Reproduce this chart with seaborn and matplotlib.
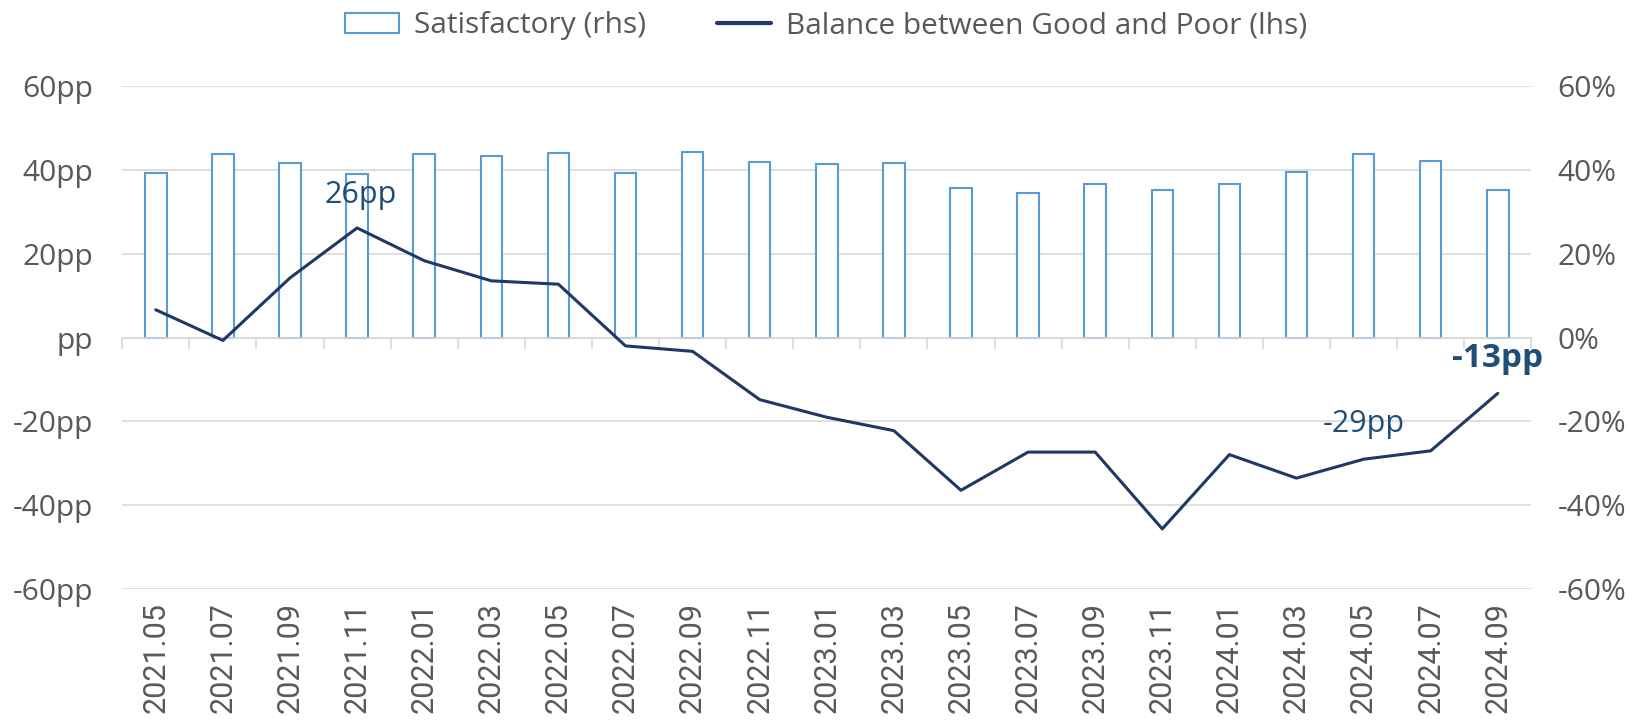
import numpy as np
import pandas as pd
import matplotlib
matplotlib.use("Agg")
import matplotlib.pyplot as plt
import seaborn as sns
from matplotlib.patches import Patch
from matplotlib.lines import Line2D

PERIODS = [
    "2021.05", "2021.07", "2021.09", "2021.11",
    "2022.01", "2022.03", "2022.05", "2022.07", "2022.09", "2022.11",
    "2023.01", "2023.03", "2023.05", "2023.07", "2023.09", "2023.11",
    "2024.01", "2024.03", "2024.05", "2024.07", "2024.09",
]
# share answering "Satisfactory", % (rhs)
SATISFACTORY = [
    39.2, 43.6, 41.5, 38.9, 43.7, 43.3, 44.0, 39.2, 44.3, 41.9, 41.4,
    41.5, 35.6, 34.4, 36.5, 35.1, 36.5, 39.4, 43.7, 42.1, 35.2,
]
# balance Good minus Poor, pp (lhs)
BALANCE = [
    6.6, -0.7, 14.2, 26.1, 18.3, 13.5, 12.7, -2.0, -3.3, -14.8, -19.0,
    -22.2, -36.4, -27.3, -27.3, -45.6, -27.9, -33.5, -29.0, -27.0, -13.3,
]
Y_TICKS = [-60, -40, -20, 0, 20, 40, 60]
LEFT_LABELS = ["-60pp", "-40pp", "-20pp", "pp", "20pp", "40pp", "60pp"]
RIGHT_LABELS = ["-60%", "-40%", "-20%", "0%", "20%", "40%", "60%"]
# (x index, y position, text, bold)
CALLOUTS = [
    (3.05, 34.0, "26pp", False),
    (18.0, -20.5, "-29pp", False),
    (20.0, -5.0, "-13pp", True),
]

LINE_COLOR = "#1F3864"
BAR_EDGE = "#5B9BD5"
GRID_COLOR = "#D9D9D9"
TEXT_GREY = "#595959"
CALLOUT_COLOR = "#1F4E79"
FONT_SIZE = 21.5

sns.set_theme(style="white")
plt.rcParams["font.family"] = ["Open Sans", "DejaVu Sans"]

df = pd.DataFrame({
    "period": PERIODS,
    "idx": np.arange(len(PERIODS)),
    "satisfactory": SATISFACTORY,
    "balance": BALANCE,
})

fig = plt.figure(figsize=(16.39, 7.21), dpi=100)
ax = fig.add_axes([0.0746, 0.1826, 0.8597, 0.6986])
ax2 = ax.twinx()

# bars on the right axis
sns.barplot(
    data=df, x="idx", y="satisfactory", ax=ax2, color="white", saturation=1,
    edgecolor=BAR_EDGE, linewidth=1.5, width=0.32, errorbar=None,
)
# line on the left axis
sns.lineplot(data=df, x="idx", y="balance", ax=ax, color=LINE_COLOR, linewidth=2.2)

# line axis above bars
ax.set_zorder(ax2.get_zorder() + 1)
ax.patch.set_visible(False)

n = len(PERIODS)
for a in (ax, ax2):
    a.set_xlim(-0.5, n - 0.5)
    a.set_ylim(-60, 60)
    a.set_xlabel("")
    a.set_ylabel("")
    for s in a.spines.values():
        s.set_visible(False)

ax2.set_axisbelow(True)
ax2.yaxis.grid(True, color=GRID_COLOR, linewidth=1.2)
ax.grid(False)

ax.set_yticks(Y_TICKS, LEFT_LABELS)
ax2.set_yticks(Y_TICKS, RIGHT_LABELS)
ax.tick_params(axis="y", length=0, pad=21, labelsize=FONT_SIZE, labelcolor=TEXT_GREY)
ax2.tick_params(axis="y", length=0, pad=19, labelsize=FONT_SIZE, labelcolor=TEXT_GREY)

ax.set_xticks(range(n))
ax.set_xticklabels(PERIODS, rotation=90, fontsize=22, color=TEXT_GREY, family="Roboto")
ax.tick_params(axis="x", length=0, pad=9)

# zero axis with category boundary ticks
sec = ax.secondary_xaxis(0.5)
sec.set_xticks(np.arange(n + 1) - 0.5, labels=[""] * (n + 1))
sec.tick_params(direction="in", length=8, width=1.2, color=GRID_COLOR)
for s in sec.spines.values():
    s.set_color(GRID_COLOR)
    s.set_linewidth(1.2)

for x, y, txt, bold in CALLOUTS:
    ax.text(x, y, txt, ha="center", va="center", color=CALLOUT_COLOR,
            fontsize=24 if bold else 22, fontweight="bold" if bold else "normal")

handles = [
    Patch(facecolor="white", edgecolor=BAR_EDGE, linewidth=1.5),
    Line2D([0], [0], color=LINE_COLOR, linewidth=3),
]
fig.legend(
    handles, ["Satisfactory (rhs)", "Balance between Good and Poor (lhs)"],
    loc="center", bbox_to_anchor=(0.504, 0.964), ncol=2, frameon=False,
    fontsize=FONT_SIZE, handlelength=1.8, handletextpad=0.5, columnspacing=2.4,
    labelcolor=TEXT_GREY,
)

fig.savefig("out.png", dpi=100)
